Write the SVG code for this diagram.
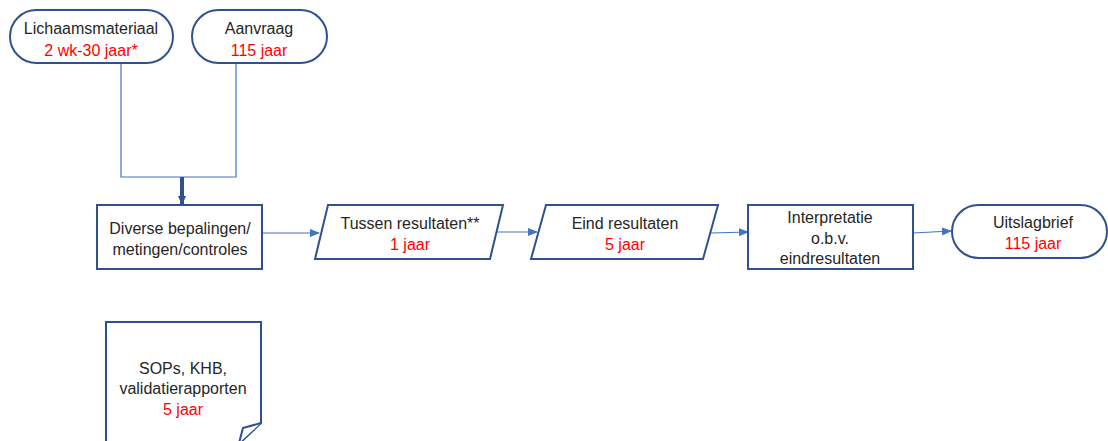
<svg xmlns="http://www.w3.org/2000/svg" width="1108" height="441" viewBox="0 0 1108 441">
<defs>
<marker id="ah" markerWidth="10" markerHeight="8" refX="9" refY="4" orient="auto" markerUnits="userSpaceOnUse">
<path d="M0,0 L10,4 L0,8 Z" fill="#4472C4"/>
</marker>
<marker id="ahT" markerWidth="10" markerHeight="8" refX="8" refY="4" orient="auto" markerUnits="userSpaceOnUse">
<path d="M0,0 L9,4 L0,8 Z" fill="#2F528F"/>
</marker>
</defs>
<style>
.s{fill:#fff;stroke:#2F528F;stroke-width:2}
.t{font-family:"Liberation Sans",Arial,sans-serif;font-size:16px;fill:#262626;text-anchor:middle}
.r{fill:#FF0000}
.c{fill:none;stroke:#4472C4;stroke-width:1.2}
</style>
<rect width="1108" height="441" fill="#fff"/>
<g id="connectors">
<path class="c" d="M121,63 V177 H236 V63"/>
<line x1="182" y1="177" x2="182" y2="204" stroke="#2F528F" stroke-width="4" marker-end="url(#ahT)"/>
<line class="c" x1="262" y1="233" x2="319" y2="233" marker-end="url(#ah)"/>
<line class="c" x1="497" y1="232" x2="537" y2="232" marker-end="url(#ah)"/>
<line class="c" x1="711" y1="233" x2="748" y2="232" marker-end="url(#ah)"/>
<line class="c" x1="913" y1="233" x2="951" y2="231" marker-end="url(#ah)"/>
</g>
<g id="lichaamsmateriaal">
<rect class="s" x="10" y="10" width="163" height="53" rx="26.5"/>
<text class="t" x="91" y="34">Lichaamsmateriaal</text>
<text class="t r" x="91" y="56">2 wk-30 jaar*</text>
</g>
<g id="aanvraag">
<rect class="s" x="192" y="10" width="135" height="53" rx="26.5"/>
<text class="t" x="259" y="34">Aanvraag</text>
<text class="t r" x="259" y="56">115 jaar</text>
</g>
<g id="diverse">
<rect class="s" x="97" y="205" width="165" height="64"/>
<text class="t" x="180" y="234">Diverse bepalingen/</text>
<text class="t" x="180" y="255">metingen/controles</text>
</g>
<g id="tussen">
<polygon class="s" points="328,205 503,205 490,259 315,259"/>
<text class="t" x="410" y="229">Tussen resultaten**</text>
<text class="t r" x="410" y="250">1 jaar</text>
</g>
<g id="eind">
<polygon class="s" points="546,205 718,205 703,259 531,259"/>
<text class="t" x="625" y="229">Eind resultaten</text>
<text class="t r" x="625" y="250">5 jaar</text>
</g>
<g id="interpretatie">
<rect class="s" x="748" y="205" width="165" height="64"/>
<text class="t" x="830" y="223">Interpretatie</text>
<text class="t" x="830" y="244">o.b.v.</text>
<text class="t" x="830" y="264">eindresultaten</text>
</g>
<g id="uitslagbrief">
<rect class="s" x="952" y="205" width="155" height="53" rx="26.5"/>
<text class="t" x="1033" y="228">Uitslagbrief</text>
<text class="t r" x="1033" y="249">115 jaar</text>
</g>
<g id="sops">
<path class="s" d="M106,443 V322 H261 V423 L240,443"/>
<path fill="#fff" stroke="#2F528F" stroke-width="2" stroke-linejoin="round" d="M261,423 L243,428 L239,443"/>
<text class="t" x="183" y="374">SOPs, KHB,</text>
<text class="t" x="183" y="394">validatierapporten</text>
<text class="t r" x="183" y="415">5 jaar</text>
</g>
</svg>
